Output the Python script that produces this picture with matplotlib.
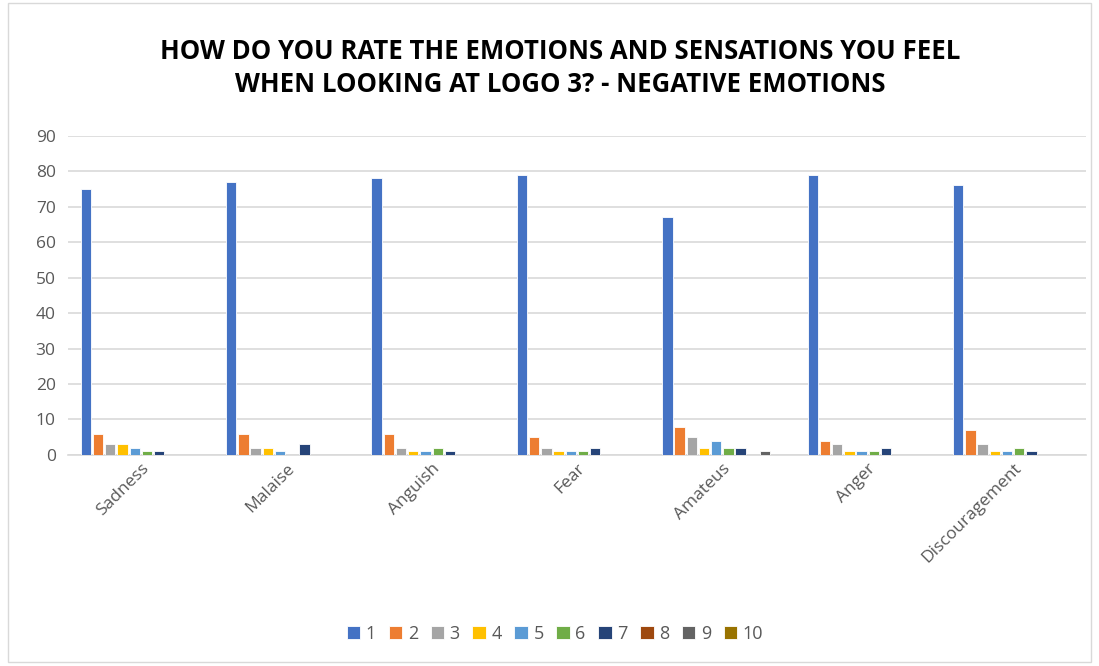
import matplotlib
matplotlib.use("Agg")
import matplotlib.pyplot as plt
import numpy as np
from matplotlib.patches import Rectangle

categories = ["Sadness", "Malaise", "Anguish", "Fear", "Amateus", "Anger", "Discouragement"]
series_names = ["1", "2", "3", "4", "5", "6", "7", "8", "9", "10"]
s1 = [75, 77, 78, 79, 67, 79, 76]
s2 = [6, 6, 6, 5, 8, 4, 7]
s3 = [3, 2, 2, 2, 5, 3, 3]
s4 = [3, 2, 1, 1, 2, 1, 1]
s5 = [2, 1, 1, 1, 4, 1, 1]
s6 = [1, 0, 2, 1, 2, 1, 2]
s7 = [1, 3, 1, 2, 2, 2, 1]
s8 = [0, 0, 0, 0, 0, 0, 0]
s9 = [0, 0, 0, 0, 1, 0, 0]
s10 = [0, 0, 0, 0, 0, 0, 0]
series = [s1, s2, s3, s4, s5, s6, s7, s8, s9, s10]
colors = ["#4472C4", "#ED7D31", "#A5A5A5", "#FFC000", "#5B9BD5",
          "#70AD47", "#264478", "#9E480E", "#636363", "#997300"]

plt.rcParams['font.family'] = ['Open Sans', 'DejaVu Sans']

fig = plt.figure(figsize=(10.99, 6.66), dpi=100)
ax = fig.add_axes([0.062, 0.317, 0.926, 0.479])

x = np.arange(len(categories))
slot = 0.84 / len(series)
for i, (vals, c, name) in enumerate(zip(series, colors, series_names)):
    offs = (i - (len(series) - 1) / 2) * slot
    ax.bar(x + offs, vals, width=slot * 0.85, color=c, label=name,
           edgecolor="white", linewidth=0.6, zorder=3)

ax.set_xlim(-0.5, len(categories) - 0.5)
ax.set_ylim(0, 90)
ax.set_yticks(range(0, 91, 10))
ax.yaxis.grid(True, color="#D9D9D9", linewidth=1.2, zorder=0)
ax.set_axisbelow(True)
for sp in ["top", "right", "left"]:
    ax.spines[sp].set_visible(False)
ax.spines["bottom"].set_color("#D9D9D9")
ax.spines["bottom"].set_linewidth(1.2)
ax.tick_params(axis="y", length=0, labelsize=12.5, labelcolor="#595959", pad=9)
ax.tick_params(axis="x", length=0, labelsize=12.5, labelcolor="#595959", pad=4)
ax.set_xticks(x)
ax.set_xticklabels(categories, rotation=45, ha="right", rotation_mode="anchor")

fig.text(0.51, 0.898, "HOW DO YOU RATE THE EMOTIONS AND SENSATIONS YOU FEEL\nWHEN LOOKING AT LOGO 3? - NEGATIVE EMOTIONS",
         ha="center", va="center", fontsize=18.5, fontweight="bold", color="black", linespacing=1.3)

leg = fig.legend(loc="center", bbox_to_anchor=(0.505, 0.048), ncol=10, frameon=False,
                 fontsize=13, handlelength=0.75, handleheight=0.75, handletextpad=0.3,
                 columnspacing=0.7)
for t in leg.get_texts():
    t.set_color("#595959")

fig.patches.append(Rectangle((0.007, 0.006), 0.986, 0.99, transform=fig.transFigure,
                             fill=False, edgecolor="#D9D9D9", linewidth=1))

fig.savefig("out.png", dpi=100)
